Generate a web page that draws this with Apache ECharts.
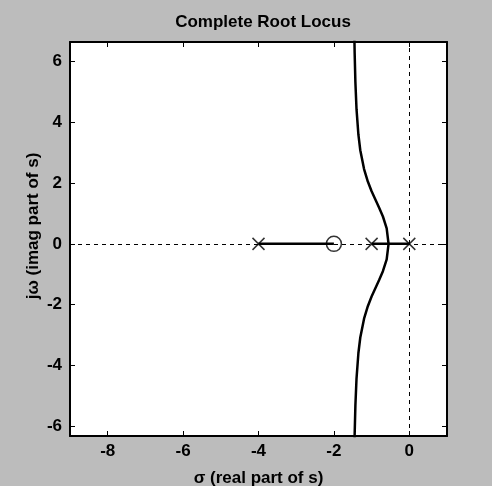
<!DOCTYPE html>
<html>
<head>
<meta charset="utf-8">
<script src="https://cdn.jsdelivr.net/npm/echarts@6/dist/echarts.min.js"></script>
<style>
  html, body { margin: 0; padding: 0; background: #bcbcbc; }
  #chart { width: 492px; height: 486px; }
</style>
</head>
<body>
<div id="chart"></div>
<script>
// axis limits and ticks
const xRange = [-9, 1];
const yRange = [-6.32, 6.64];
const xTicks = [-8, -6, -4, -2, 0];
const yTicks = [-6, -4, -2, 0, 2, 4, 6];

// open-loop poles and zero
const poles = [[-4, 0], [-1, 0], [0, 0]];
const zeros = [[-2, 0]];

// locus on the real axis
const realSegA = [[-4, 0], [-2, 0]];
const realSegB = [[-1, 0], [0, 0]];

// complex branches (sigma, omega)
const upperBranch = [
  [-0.55, 0], [-0.6, 0.51], [-0.7, 0.9], [-0.8, 1.19], [-0.9, 1.46],
  [-1.0, 1.73], [-1.1, 2.05], [-1.2, 2.46], [-1.3, 3.08], [-1.35, 3.59],
  [-1.4, 4.43], [-1.43, 5.32], [-1.45, 6.3], [-1.46, 7.05]
];
const lowerBranch = [
  [-0.55, 0], [-0.6, -0.51], [-0.7, -0.9], [-0.8, -1.19], [-0.9, -1.46],
  [-1.0, -1.73], [-1.1, -2.05], [-1.2, -2.46], [-1.3, -3.08], [-1.35, -3.59],
  [-1.4, -4.43], [-1.43, -5.32], [-1.45, -6.3], [-1.46, -7.05]
];

const font = "'Liberation Sans', Arial, sans-serif";
const chart = echarts.init(document.getElementById("chart"));

const lineStyle = { color: "#000", width: 2.5 };
const crossPath = "path://M0,0L10,10M10,0L0,10";

function boxAxis(extra) {
  return Object.assign({
    type: "value",
    axisLine: { show: true, onZero: false, lineStyle: { color: "#000", width: 2 } },
    axisTick: { show: true, inside: true, length: 5, lineStyle: { color: "#000", width: 1 } },
    axisLabel: { show: false },
    splitLine: { show: false }
  }, extra);
}

const option = {
  backgroundColor: "#bcbcbc",
  animation: false,
  title: {
    text: "Complete Root Locus",
    left: 258,
    textAlign: "center",
    top: 9,
    textStyle: { fontFamily: font, fontSize: 17, fontWeight: "bold", color: "#000" }
  },
  grid: {
    left: 70, right: 45, top: 42, bottom: 50,
    containLabel: false, outerBoundsMode: "none",
    show: true, backgroundColor: "#fff", borderWidth: 0
  },
  xAxis: [
    boxAxis({
      min: xRange[0], max: xRange[1], position: "bottom",
      axisTick: { show: true, inside: true, length: 5, customValues: xTicks, lineStyle: { color: "#000" } },
      axisLabel: { show: true, customValues: xTicks, margin: 7, color: "#000", fontFamily: font, fontSize: 17, fontWeight: "bold" },
      name: "\u03c3 (real part of s)",
      nameLocation: "middle",
      nameGap: 34,
      nameTextStyle: { fontFamily: font, fontSize: 17, fontWeight: "bold", color: "#000" }
    }),
    boxAxis({
      min: xRange[0], max: xRange[1], position: "top",
      axisTick: { show: true, inside: true, length: 5, customValues: xTicks, lineStyle: { color: "#000" } }
    })
  ],
  yAxis: [
    boxAxis({
      min: yRange[0], max: yRange[1], position: "left",
      axisTick: { show: true, inside: true, length: 5, customValues: yTicks, lineStyle: { color: "#000" } },
      axisLabel: { show: true, customValues: yTicks, margin: 8, color: "#000", fontFamily: font, fontSize: 17, fontWeight: "bold" }
    }),
    boxAxis({
      min: yRange[0], max: yRange[1], position: "right",
      axisTick: { show: true, inside: true, length: 5, customValues: yTicks, lineStyle: { color: "#000" } }
    })
  ],
  graphic: [{
    type: "text",
    x: 33,
    y: 226,
    rotation: Math.PI / 2,
    style: {
      text: "j\u03c9 (imag part of s)",
      font: "bold 17px " + font,
      fill: "#000",
      align: "center",
      verticalAlign: "middle"
    }
  }],
  series: [
    {
      type: "line", data: upperBranch, showSymbol: false, lineStyle: lineStyle, z: 3,
      markLine: {
        silent: true, symbol: "none", label: { show: false },
        lineStyle: { color: "#000", width: 1, type: [4, 4] },
        data: [{ yAxis: 0 }, { xAxis: 0 }]
      }
    },
    { type: "line", data: lowerBranch, showSymbol: false, lineStyle: lineStyle, z: 3 },
    { type: "line", data: realSegA, showSymbol: false, lineStyle: lineStyle, z: 3 },
    { type: "line", data: realSegB, showSymbol: false, lineStyle: lineStyle, z: 3 },
    {
      type: "scatter", data: poles, symbol: crossPath, symbolSize: 12, z: 4,
      itemStyle: { color: "none", borderColor: "#000", borderWidth: 1.5 }
    },
    {
      type: "scatter", data: zeros, symbol: "circle", symbolSize: 15, z: 4,
      itemStyle: { color: "none", borderColor: "#000", borderWidth: 1.5 }
    }
  ]
};

chart.setOption(option);
</script>
</body>
</html>
